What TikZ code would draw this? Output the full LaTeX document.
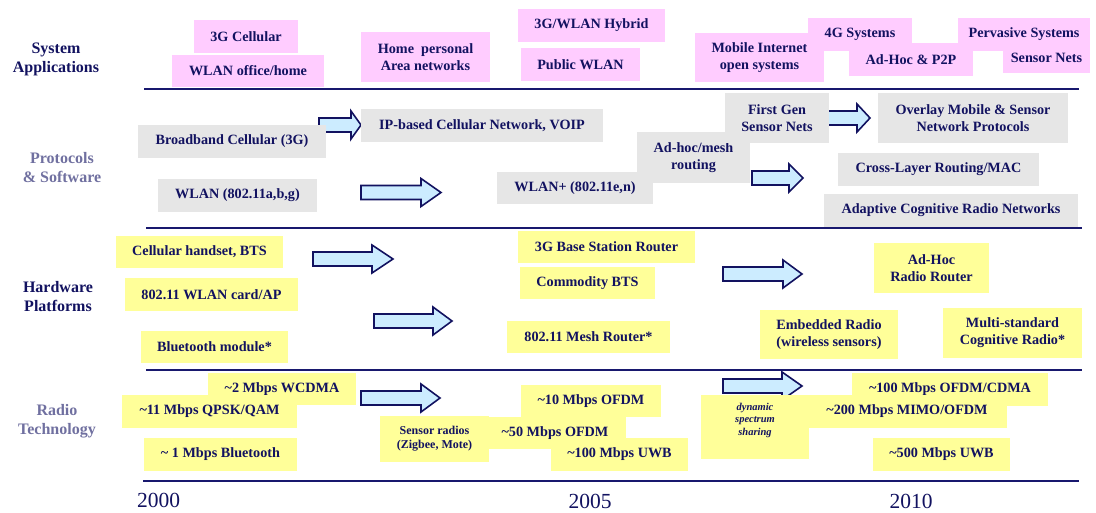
\documentclass[tikz,border=0pt]{standalone}
\usepackage{fontspec}
\setmainfont{Liberation Serif}
\definecolor{navy}{RGB}{18,18,96}
\definecolor{linenavy}{RGB}{24,24,110}
\definecolor{lblgray}{RGB}{112,112,160}
\definecolor{pinkbox}{RGB}{255,204,255}
\definecolor{yelbox}{RGB}{255,255,153}
\definecolor{graybox}{RGB}{230,230,230}
\definecolor{arrfill}{RGB}{204,236,255}
\newcommand\bx[7]{\node[#6,minimum width={(#4-#2)*1pt},minimum height={(#5-#3)*1pt}] (#1) at ({(#2+#4)/2},{(#3+#5)/2}) {#7};}
\newcommand\barr[5]{\draw[blockarr] ({#2},{#5-7}) -- ({#3},{#5-7}) -- ({#3},{#5-14}) -- ({#4},{#5}) -- ({#3},{#5+14}) -- ({#3},{#5+7}) -- ({#2},{#5+7}) -- cycle; \coordinate (#1) at ({#4},{#5});}
\tikzset{
  bxs/.style={inner sep=0pt, align=center, text=navy, font=\fontsize{14.2}{17}\selectfont\bfseries},
  pk/.style={bxs, fill=pinkbox},
  yl/.style={bxs, fill=yelbox},
  gr/.style={bxs, fill=graybox},
  lbl/.style={align=center, font=\fontsize{16}{19}\selectfont\bfseries},
  year/.style={text=navy, inner sep=0pt, font=\fontsize{21.5}{24}\selectfont},
  dyn/.style={align=center, text=navy, inner sep=0pt, font=\fontsize{10.5}{12.5}\selectfont\bfseries\itshape},
  smallbx/.style={yl, font=\fontsize{12}{14}\selectfont\bfseries},
  sep/.style={draw=linenavy, line width=2pt},
  blockarr/.style={draw=navy, line width=1.6pt, fill=arrfill, line join=miter},
}
\begin{document}
\begin{tikzpicture}[x=1pt,y=-1pt]
\useasboundingbox (0,0) rectangle (1096,512);
\fill[white] (0,0) rectangle (1096,512);
% separators
\coordinate (l1a) at (144,89);  \coordinate (l1b) at (1079,89);
\coordinate (l2a) at (146,228); \coordinate (l2b) at (1082,228);
\coordinate (l3a) at (146,370); \coordinate (l3b) at (1082,370);
\coordinate (l4a) at (143,481); \coordinate (l4b) at (1079,481);
\draw[sep] (l1a) -- (l1b);
\draw[sep] (l2a) -- (l2b);
\draw[sep] (l3a) -- (l3b);
\draw[sep] (l4a) -- (l4b);
% row labels
\node[lbl,text=navy] (sysapp) at (56,59) {System\\Applications};
\node[lbl,text=lblgray] (protsw) at (62,167.5) {Protocols\\\& Software};
\node[lbl,text=navy] (hwplat) at (58,296.5) {Hardware\\Platforms};
\node[lbl,text=lblgray] (radtech) at (57,421.5) {Radio\\Technology};
% system applications
\bx{cellg}{194}{20}{298}{53}{pk}{3G Cellular}
\bx{wlanoh}{172}{55}{324}{87}{pk}{WLAN office/home}
\bx{homepan}{361}{32}{490}{82}{pk}{Home~ personal\\Area networks}
\bx{hybrid}{518}{9}{665}{42}{pk}{3G/WLAN Hybrid}
\bx{pubwlan}{521}{48}{640}{81}{pk}{Public WLAN}
\bx{mobinet}{695}{33}{824}{82}{pk}{Mobile Internet\\open systems}
\bx{sysg}{808}{18}{912}{51}{pk}{4G Systems}
\bx{adhocpp}{849}{43}{973}{76}{pk}{Ad-Hoc \& P2P}
\bx{sensnets}{1003}{43}{1090}{73}{pk}{Sensor Nets}
\bx{pervasive}{958}{18}{1090}{51}{pk}{Pervasive Systems}
% protocols arrows
\barr{pa}{319}{351}{361}{125}
\barr{pb}{361}{421}{441}{192.5}
\barr{pc}{828}{857}{870}{118}
\barr{pd}{752}{789}{803}{178}
% protocols
\bx{bbcell}{138}{125}{326}{158}{gr}{Broadband Cellular (3G)}
\bx{wlanabg}{158}{179}{317}{212}{gr}{WLAN (802.11a,b,g)}
\bx{ipcell}{361}{109}{603}{142}{gr}{IP-based Cellular Network, VOIP}
\bx{wlanplus}{497}{172}{653}{204}{gr}{WLAN+ (802.11e,n)}
\bx{adhocmesh}{637}{132}{750}{183}{gr}{Ad-hoc/mesh\\routing}
\bx{firstgen}{725}{93}{829}{143}{gr}{First Gen\\Sensor Nets}
\bx{overlay}{878}{93}{1068}{143}{gr}{Overlay Mobile \& Sensor\\Network Protocols}
\bx{crosslayer}{838}{153}{1039}{186}{gr}{Cross-Layer Routing/MAC}
\bx{adaptive}{824}{194}{1078}{227}{gr}{Adaptive Cognitive Radio Networks}
% hardware arrows
\barr{ha}{313}{372}{393}{259}
\barr{hb}{374}{433}{452}{321}
\barr{hc}{723}{783}{802}{274}
% hardware
\bx{cellhs}{116}{236}{283}{268}{yl}{Cellular handset, BTS}
\bx{wlancard}{125}{278}{298}{311}{yl}{802.11 WLAN card/AP}
\bx{btmod}{141}{331}{288}{363}{yl}{Bluetooth module*}
\bx{bsrouter}{518}{231}{695}{263}{yl}{3G Base Station Router}
\bx{combts}{520}{267}{655}{299}{yl}{Commodity BTS}
\bx{meshrouter}{507}{321}{670}{353}{yl}{802.11 Mesh Router*}
\bx{embradio}{760}{310}{898}{359}{yl}{Embedded Radio\\(wireless sensors)}
\bx{adhocrr}{874}{243}{989}{293}{yl}{Ad-Hoc\\Radio Router}
\bx{multistd}{943}{308}{1082}{358}{yl}{Multi-standard\\Cognitive Radio*}
% radio arrows
\barr{ra}{361}{421}{440}{398}
\barr{rb}{723}{782}{802}{386}
% radio technology
\bx{wcdma}{208}{373}{356}{405}{yl}{\textasciitilde2 Mbps WCDMA}
\bx{qpsk}{122}{395}{297}{428}{yl}{\textasciitilde11 Mbps QPSK/QAM}
\bx{btone}{144}{438}{297}{471}{yl}{\textasciitilde\ 1 Mbps Bluetooth}
\bx{ofdmten}{521}{385}{661}{417}{yl}{\textasciitilde10 Mbps OFDM}
\bx{ofdmfifty}{484}{417}{626}{449}{yl}{\textasciitilde50 Mbps OFDM}
\bx{uwbhund}{551}{438}{688}{471}{yl}{\textasciitilde100 Mbps UWB}
\bx{sensrad}{380}{416}{489}{462}{smallbx}{Sensor radios\\(Zigbee, Mote)}
\bx{dynbox}{701}{395}{809}{459}{yl}{}
\node[dyn] (dyntext) at (755,420) {dynamic\\spectrum\\sharing};
\bx{ofdmcdma}{852}{373}{1048}{406}{yl}{\textasciitilde100 Mbps OFDM/CDMA}
\bx{mimo}{807}{395}{1007}{428}{yl}{\textasciitilde200 Mbps MIMO/OFDM}
\bx{uwbfive}{873}{438}{1010}{471}{yl}{\textasciitilde500 Mbps UWB}
% years
\node[year] (yA) at (158.5,500.5) {2000};
\node[year] (yB) at (590,501.5) {2005};
\node[year] (yC) at (911,501.5) {2010};
\end{tikzpicture}
\end{document}
